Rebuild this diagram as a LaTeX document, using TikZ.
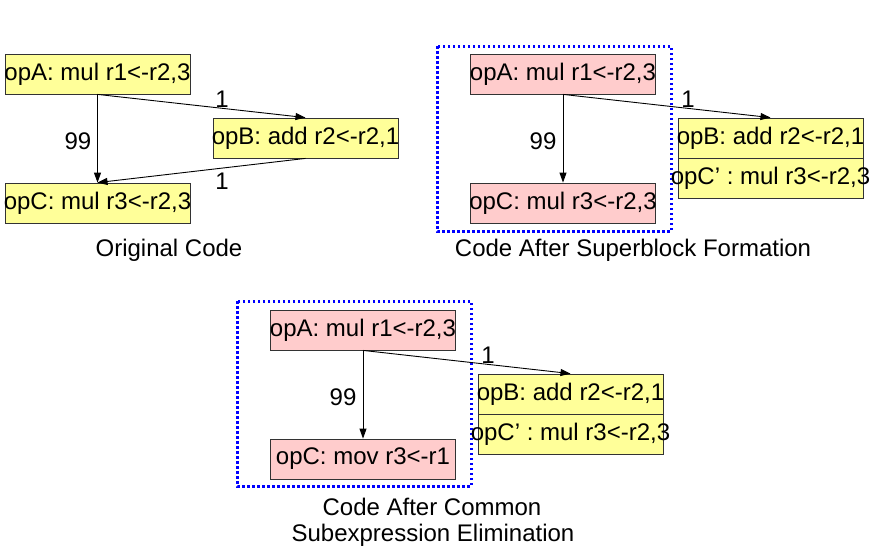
\documentclass[tikz,border=0pt]{standalone}
\usepackage{fontspec}
\setmainfont{Liberation Sans}
\usetikzlibrary{arrows.meta}
\definecolor{boxyellow}{RGB}{255,255,153}
\definecolor{boxpink}{RGB}{255,204,204}
\definecolor{dotblue}{RGB}{0,0,255}
\newcommand{\optext}[1]{\makebox[185pt]{#1}}
\begin{document}
\begin{tikzpicture}[x=1pt,y=-1pt,
  every node/.style={font=\fontsize{24}{28}\selectfont, inner sep=0pt},
  opbox/.style={draw=black!80, line width=0.8pt, minimum width=185pt, minimum height=40pt},
  ybox/.style={opbox, fill=boxyellow},
  pbox/.style={opbox, fill=boxpink},
  edge/.style={draw=black, line width=0.9pt, -{Triangle[length=10pt,width=7pt]}},
  sblock/.style={draw=dotblue, line width=3pt, dash pattern=on 2.5pt off 2.5pt},
  caption/.style={anchor=center}]
\useasboundingbox (0,0) rectangle (893,557);

% ---------- Original Code ----------
\node[ybox] (a1) at (97.5,74) {\optext{opA: mul r1<-r2,3}};
\node[ybox] (b1) at (305.5,138) {\optext{opB: add r2<-r2,1}};
\node[ybox] (c1) at (97.5,203) {\optext{opC: mul r3<-r2,3}};
\draw[edge] (a1.south) -- (c1.north);
\draw[edge] (a1.south) -- (b1.north);
\draw[edge] (b1.south) -- (c1.north);
\node (l1a) at (222,99) {1};
\node (l1b) at (78,141) {99};
\node (l1c) at (222,181) {1};
\node[caption] (cap1) at (169,250) {Original Code};

% ---------- After Superblock Formation ----------
\draw[sblock] (437,46) rectangle (671,231);
\node[pbox] (a2) at (563,74) {\optext{opA: mul r1<-r2,3}};
\node[pbox] (c2) at (563,203) {\optext{opC: mul r3<-r2,3}};
\node[ybox] (b2) at (770.5,138) {\optext{opB: add r2<-r2,1}};
\node[ybox] (cp2) at (770.5,178) {\optext{opC’ : mul r3<-r2,3}};
\draw[edge] (a2.south) -- (c2.north);
\draw[edge] (a2.south) -- (b2.north);
\node (l2a) at (688,99) {1};
\node (l2b) at (543,141) {99};
\node[caption] (cap2) at (633,250) {Code After Superblock Formation};

% ---------- After CSE ----------
\draw[sblock] (237,301) rectangle (471,486);
\node[pbox] (a3) at (363,330) {\optext{opA: mul r1<-r2,3}};
\node[pbox] (c3) at (363,459) {\optext{opC: mov r3<-r1}};
\node[ybox] (b3) at (570.5,394) {\optext{opB: add r2<-r2,1}};
\node[ybox] (cp3) at (570.5,434) {\optext{opC’ : mul r3<-r2,3}};
\draw[edge] (a3.south) -- (c3.north);
\draw[edge] (a3.south) -- (b3.north);
\node (l3a) at (488,355) {1};
\node (l3b) at (343,397) {99};
\node[caption] (cap3) at (432,507) {Code After Common};
\node[caption] (cap3b) at (433,535) {Subexpression Elimination};
\end{tikzpicture}
\end{document}
